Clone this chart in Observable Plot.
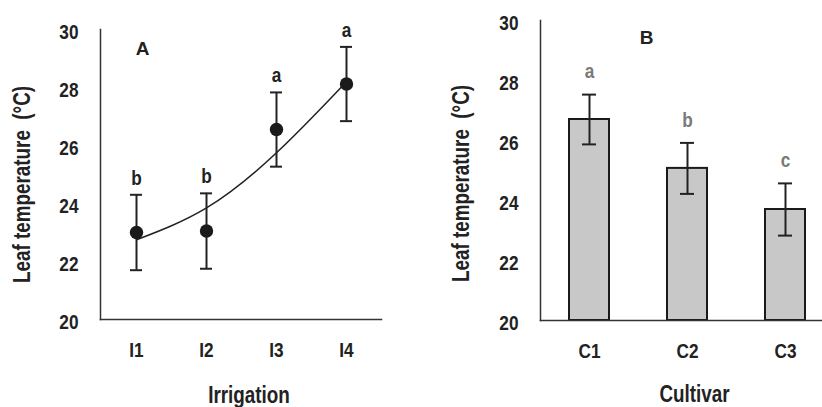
<!DOCTYPE html>
<html><head><meta charset="utf-8">
<script src="https://cdn.jsdelivr.net/npm/d3@7"></script>
<script src="https://cdn.jsdelivr.net/npm/@observablehq/plot@0.6"></script>
<style>
body{margin:0;background:#fff;}
#wrap{display:flex;width:822px;height:407px;}
#wrap svg{flex:none;}
</style></head><body><div id="wrap"></div>
<script>
// Panel A: irrigation
const irrigation = ["I1","I2","I3","I4"];
const irrMean = [23.0, 23.05, 26.55, 28.12];
const irrErr = [1.3, 1.3, 1.28, 1.28];
const irrLetters = ["b","b","a","a"];
const irrTrend = [22.75, 23.85, 25.75, 28.2];
// Panel B: cultivar
const cultivars = ["C1","C2","C3"];
const cultMean = [26.7, 25.07, 23.7];
const cultErr = [0.83, 0.85, 0.87];
const cultLetters = ["a","b","c"];
// Axis
const yDomain = [20, 30];
const yTicks = [20,22,24,26,28,30];
const yLabel = "Leaf temperature  (°C)";
const panelTags = ["A","B"];

const font = "'Liberation Sans',Arial,sans-serif";
const ink = "#222";

const dataA = irrigation.map((k,i)=>({k, m:irrMean[i], lo:irrMean[i]-irrErr[i], hi:irrMean[i]+irrErr[i], t:irrLetters[i], tr:irrTrend[i]}));
const dataB = cultivars.map((k,i)=>({k, m:cultMean[i], lo:cultMean[i]-cultErr[i], hi:cultMean[i]+cultErr[i], t:cultLetters[i]}));

const centered = {textAnchor:"middle", lineAnchor:"middle"};

const A = Plot.plot({
  width:411, height:407, marginLeft:100, marginRight:30, marginTop:29, marginBottom:88,
  style:{fontFamily:font, fontWeight:"bold", color:ink, background:"white", overflow:"visible"},
  x:{type:"band", domain:irrigation, padding:0},
  y:{domain:yDomain},
  marks:[
    Plot.axisY({ticks:yTicks, tickSize:0, tickPadding:22, fontSize:21, label:null, dy:3, fill:ink}),
    Plot.axisX({tickSize:0, tickPadding:23, fontSize:21, label:null, fill:ink}),
    Plot.frame({anchor:"left", stroke:"#333", strokeWidth:1.5}),
    Plot.frame({anchor:"bottom", stroke:"#333", strokeWidth:1.5}),
    Plot.line(dataA,{x:"k", y:"tr", curve:"natural", stroke:ink, strokeWidth:1.5}),
    Plot.ruleX(dataA,{x:"k", y1:"lo", y2:"hi", stroke:ink, strokeWidth:2}),
    Plot.tickY(dataA,{x:"k", y:"lo", insetLeft:29, insetRight:29, stroke:ink, strokeWidth:2}),
    Plot.tickY(dataA,{x:"k", y:"hi", insetLeft:29, insetRight:29, stroke:ink, strokeWidth:2}),
    Plot.dot(dataA,{x:"k", y:"m", r:6.7, fill:"#1a1a1a", stroke:null}),
    Plot.text(dataA,{x:"k", y:"hi", text:"t", dy:-17, fontSize:21, fill:ink}),
    Plot.text([panelTags[0]],{frameAnchor:"top-left", ...centered, dx:42, dy:19, fontSize:19, fill:ink}),
    Plot.text([yLabel],{frameAnchor:"left", ...centered, rotate:-90, dx:-78, dy:10, fontSize:23, fill:ink}),
    Plot.text(["Irrigation"],{frameAnchor:"bottom", ...centered, dx:8, dy:76, fontSize:23, fill:ink})
  ]
});

const B = Plot.plot({
  width:411, height:407, marginLeft:129, marginRight:0, marginTop:20, marginBottom:87,
  style:{fontFamily:font, fontWeight:"bold", color:ink, background:"white", overflow:"visible"},
  x:{type:"band", domain:cultivars, range:[129, 423], paddingInner:0.59, paddingOuter:0.295},
  y:{domain:yDomain},
  marks:[
    Plot.axisY({ticks:yTicks, tickSize:0, tickPadding:22, fontSize:21, label:null, dy:3, fill:ink}),
    Plot.axisX({tickSize:0, tickPadding:23, fontSize:21, label:null, fill:ink}),
    Plot.barY(dataB,{x:"k", y1:yDomain[0], y2:"m", fill:"#c8c8c8", stroke:"#1a1a1a", strokeWidth:2}),
    Plot.frame({anchor:"left", stroke:"#333", strokeWidth:1.5}),
    Plot.frame({anchor:"bottom", stroke:"#333", strokeWidth:1.5}),
    Plot.ruleX(dataB,{x:"k", y1:"lo", y2:"hi", stroke:ink, strokeWidth:2}),
    Plot.tickY(dataB,{x:"k", y:"lo", insetLeft:13, insetRight:13, stroke:ink, strokeWidth:2}),
    Plot.tickY(dataB,{x:"k", y:"hi", insetLeft:13, insetRight:13, stroke:ink, strokeWidth:2}),
    Plot.text(dataB,{x:"k", y:"hi", text:"t", dy:-23, fontSize:21, fill:"#7a7a7a"}),
    Plot.text([panelTags[1]],{frameAnchor:"top-left", ...centered, dx:106, dy:17, fontSize:19, fill:ink}),
    Plot.text([yLabel],{frameAnchor:"left", ...centered, rotate:-90, dx:-79, dy:13, fontSize:23, fill:ink}),
    Plot.text(["Cultivar"],{frameAnchor:"bottom", ...centered, dx:13, dy:74, fontSize:23, fill:ink})
  ]
});

document.getElementById("wrap").append(A, B);

// Condense text horizontally (about its own anchor) to mimic the narrow typeface of the original
for (const svg of [A, B]) {
  svg.querySelectorAll("text").forEach(t => {
    if (panelTags.includes(t.textContent.trim())) return;
    const x = parseFloat(t.getAttribute("x")) || 0;
    const old = t.getAttribute("transform") || "";
    t.setAttribute("transform", `${old} translate(${x},0) scale(0.82,1) translate(${-x},0)`.trim());
  });
}
</script>
</body></html>
